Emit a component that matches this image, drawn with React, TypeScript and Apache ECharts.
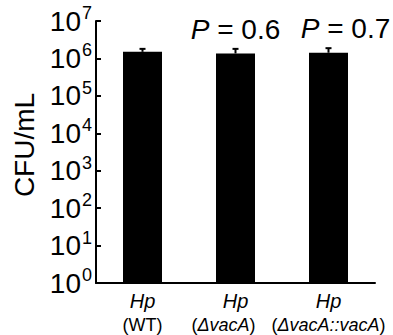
import React, { useEffect, useRef } from 'react';
import * as echarts from 'echarts';

// ---- data ----
const strains = ['WT', 'ΔvacA', 'ΔvacA::vacA'];
const strainItalic = [false, true, true];
const meanCFU = [1.5e6, 1.36e6, 1.42e6];
const upperCFU = [1.8e6, 1.8e6, 1.88e6];
const pValues = ['', '0.6', '0.7'];

const FONT = 'Liberation Sans, Arial, Helvetica, sans-serif';

export default function App() {
  const ref = useRef<HTMLDivElement>(null);
  useEffect(() => {
    document.body.style.margin = '0';
    if (!ref.current) return;
    const chart = echarts.init(ref.current, undefined, { renderer: 'svg' });
    const pOffsets = [[0, 0], [0, 0], [17, 0]];
    chart.setOption({
      animation: false,
      backgroundColor: '#fff',
      grid: { left: 96, right: 18, top: 21, bottom: 52, outerBoundsMode: 'none' },
      xAxis: {
        type: 'category',
        data: strains,
        boundaryGap: true,
        axisLine: { lineStyle: { color: '#000', width: 2 } },
        axisTick: { inside: true, length: 5, interval: 0, lineStyle: { color: '#000', width: 1.5 } },
        axisLabel: {
          interval: 0,
          margin: 6,
          color: '#000',
          fontFamily: FONT,
          formatter: (v: string, i: number) => {
            const second = strainItalic[i]
              ? `{n|(}{i2|${v}}{${i === 1 ? 'nr' : 'n'}|)}`
              : `{n|(${v})}`;
            return `{it|Hp}\n${second}`;
          },
          rich: {
            it: { fontSize: 20, fontStyle: 'italic', fontFamily: FONT, lineHeight: 24, color: '#000' },
            n: { fontSize: 18, fontFamily: FONT, lineHeight: 24, color: '#000' },
            nr: { fontSize: 18, fontFamily: FONT, lineHeight: 24, color: '#000', padding: [0, 24, 0, 0] },
            i2: { fontSize: 18, fontStyle: 'italic', fontFamily: FONT, lineHeight: 24, color: '#000' },
          },
        },
        splitLine: { show: false },
      },
      yAxis: {
        type: 'log',
        logBase: 10,
        min: 1,
        max: 1e7,
        interval: 1,
        name: 'CFU/mL',
        nameLocation: 'middle',
        nameGap: 56,
        nameTextStyle: { fontSize: 28, fontFamily: FONT, color: '#000', padding: [0, 0, 0, 14] },
        axisLine: { show: true, lineStyle: { color: '#000', width: 2 } },
        axisTick: { show: true, inside: true, length: 5, lineStyle: { color: '#000', width: 2 } },
        splitLine: { show: false },
        axisLabel: {
          margin: 4,
          color: '#000',
          formatter: (v: number) => `{b|10}{s|${Math.round(Math.log10(v))}}`,
          rich: {
            b: { fontSize: 28, fontFamily: FONT, color: '#000' },
            s: { fontSize: 18, fontFamily: FONT, color: '#000', padding: [0, 0, 16, 1] },
          },
        },
      },
      series: [
        {
          type: 'bar',
          barWidth: 39,
          itemStyle: { color: '#000' },
          data: meanCFU.map((m, i) => ({
            value: m,
            label: {
              show: pValues[i] !== '',
              position: 'top',
              distance: 10,
              offset: pOffsets[i],
              formatter: `{p|P}{t| = ${pValues[i]}}`,
              rich: {
                p: { fontSize: 28, fontStyle: 'italic', fontFamily: FONT, color: '#000' },
                t: { fontSize: 28, fontFamily: FONT, color: '#000' },
              },
            },
          })),
          z: 2,
        },
        {
          type: 'custom',
          z: 3,
          renderItem: (params: any, api: any) => {
            const x = api.value(0);
            const p0 = api.coord([x, api.value(1)]);
            const p1 = api.coord([x, api.value(2)]);
            const w = 6;
            return {
              type: 'group',
              children: [
                { type: 'line', shape: { x1: p0[0], y1: p0[1], x2: p1[0], y2: p1[1] }, style: { stroke: '#000', lineWidth: 2 } },
                { type: 'line', shape: { x1: p1[0] - w / 2, y1: p1[1], x2: p1[0] + w / 2, y2: p1[1] }, style: { stroke: '#000', lineWidth: 2 } },
              ],
            };
          },
          data: strains.map((_, i) => [i, meanCFU[i], upperCFU[i]]),
        },
      ],
    });
    return () => chart.dispose();
  }, []);
  return <div ref={ref} style={{ width: 393, height: 335 }} />;
}
